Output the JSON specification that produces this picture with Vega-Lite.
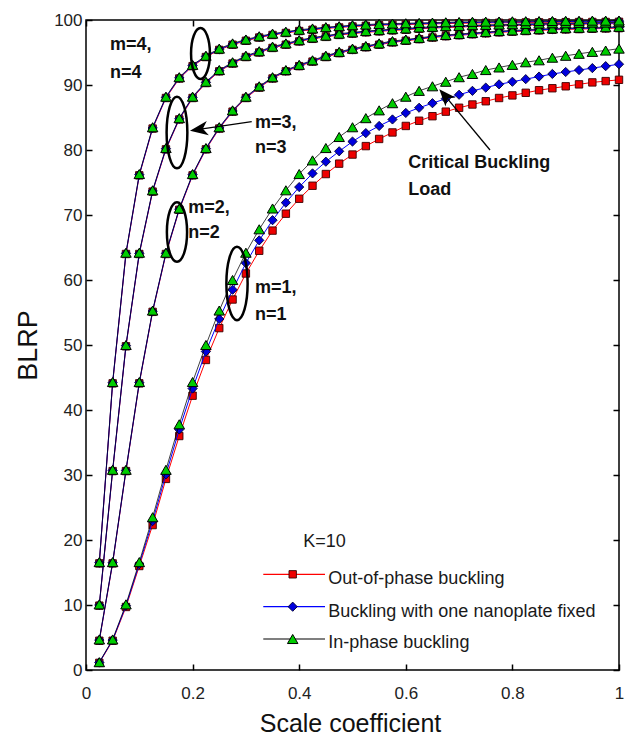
{
"$schema":"https://vega.github.io/schema/vega-lite/v6.json",
"width":533,"height":650,
"autosize":{"type":"none"},
"padding":{"left":86,"top":20,"right":12,"bottom":67},
"background":"white",
"config":{"view":{"stroke":"#000","strokeWidth":1.5},"font":"Liberation Sans",
 "axis":{"domain":false,"grid":false,"tickColor":"#000","tickWidth":1.5,"labelFont":"Liberation Sans","labelFontSize":17,"labelColor":"#222","titleFont":"Liberation Sans","titleFontSize":25,"titleFontWeight":"normal","titleColor":"#111"}},
"datasets":{"curves":[
{"s":"out","m":1,"x":0.025,"y":1.1},{"s":"out","m":1,"x":0.05,"y":4.5},{"s":"out","m":1,"x":0.075,"y":9.7},{"s":"out","m":1,"x":0.1,"y":16.0},{"s":"out","m":1,"x":0.125,"y":22.3},{"s":"out","m":1,"x":0.15,"y":29.4},{"s":"out","m":1,"x":0.175,"y":36.0},{"s":"out","m":1,"x":0.2,"y":42.2},{"s":"out","m":1,"x":0.225,"y":47.7},{"s":"out","m":1,"x":0.25,"y":52.6},{"s":"out","m":1,"x":0.275,"y":57.0},{"s":"out","m":1,"x":0.3,"y":61.0},{"s":"out","m":1,"x":0.325,"y":64.5},{"s":"out","m":1,"x":0.35,"y":67.6},{"s":"out","m":1,"x":0.375,"y":70.2},{"s":"out","m":1,"x":0.4,"y":72.5},{"s":"out","m":1,"x":0.425,"y":74.5},{"s":"out","m":1,"x":0.45,"y":76.3},{"s":"out","m":1,"x":0.475,"y":77.9},{"s":"out","m":1,"x":0.5,"y":79.3},{"s":"out","m":1,"x":0.525,"y":80.6},{"s":"out","m":1,"x":0.55,"y":81.7},{"s":"out","m":1,"x":0.575,"y":82.7},{"s":"out","m":1,"x":0.6,"y":83.7},{"s":"out","m":1,"x":0.625,"y":84.5},{"s":"out","m":1,"x":0.65,"y":85.2},{"s":"out","m":1,"x":0.675,"y":85.9},{"s":"out","m":1,"x":0.7,"y":86.5},{"s":"out","m":1,"x":0.725,"y":87.0},{"s":"out","m":1,"x":0.75,"y":87.5},{"s":"out","m":1,"x":0.775,"y":88.0},{"s":"out","m":1,"x":0.8,"y":88.4},{"s":"out","m":1,"x":0.825,"y":88.8},{"s":"out","m":1,"x":0.85,"y":89.2},{"s":"out","m":1,"x":0.875,"y":89.5},{"s":"out","m":1,"x":0.9,"y":89.8},{"s":"out","m":1,"x":0.925,"y":90.1},{"s":"out","m":1,"x":0.95,"y":90.4},{"s":"out","m":1,"x":0.975,"y":90.6},{"s":"out","m":1,"x":1,"y":90.8},
{"s":"one","m":1,"x":0.025,"y":1.15},{"s":"one","m":1,"x":0.05,"y":4.6},{"s":"one","m":1,"x":0.075,"y":9.9},{"s":"one","m":1,"x":0.1,"y":16.3},{"s":"one","m":1,"x":0.125,"y":22.9},{"s":"one","m":1,"x":0.15,"y":30.1},{"s":"one","m":1,"x":0.175,"y":37.0},{"s":"one","m":1,"x":0.2,"y":43.3},{"s":"one","m":1,"x":0.225,"y":49.0},{"s":"one","m":1,"x":0.25,"y":54.0},{"s":"one","m":1,"x":0.275,"y":58.5},{"s":"one","m":1,"x":0.3,"y":62.6},{"s":"one","m":1,"x":0.325,"y":66.1},{"s":"one","m":1,"x":0.35,"y":69.2},{"s":"one","m":1,"x":0.375,"y":71.9},{"s":"one","m":1,"x":0.4,"y":74.3},{"s":"one","m":1,"x":0.425,"y":76.4},{"s":"one","m":1,"x":0.45,"y":78.2},{"s":"one","m":1,"x":0.475,"y":79.8},{"s":"one","m":1,"x":0.5,"y":81.3},{"s":"one","m":1,"x":0.525,"y":82.6},{"s":"one","m":1,"x":0.55,"y":83.7},{"s":"one","m":1,"x":0.575,"y":84.7},{"s":"one","m":1,"x":0.6,"y":85.7},{"s":"one","m":1,"x":0.625,"y":86.5},{"s":"one","m":1,"x":0.65,"y":87.2},{"s":"one","m":1,"x":0.675,"y":87.9},{"s":"one","m":1,"x":0.7,"y":88.5},{"s":"one","m":1,"x":0.725,"y":89.1},{"s":"one","m":1,"x":0.75,"y":89.6},{"s":"one","m":1,"x":0.775,"y":90.1},{"s":"one","m":1,"x":0.8,"y":90.5},{"s":"one","m":1,"x":0.825,"y":90.9},{"s":"one","m":1,"x":0.85,"y":91.3},{"s":"one","m":1,"x":0.875,"y":91.7},{"s":"one","m":1,"x":0.9,"y":92.0},{"s":"one","m":1,"x":0.925,"y":92.3},{"s":"one","m":1,"x":0.95,"y":92.6},{"s":"one","m":1,"x":0.975,"y":92.9},{"s":"one","m":1,"x":1,"y":93.2},
{"s":"in","m":1,"x":0.025,"y":1.2},{"s":"in","m":1,"x":0.05,"y":4.7},{"s":"in","m":1,"x":0.075,"y":10.1},{"s":"in","m":1,"x":0.1,"y":16.6},{"s":"in","m":1,"x":0.125,"y":23.5},{"s":"in","m":1,"x":0.15,"y":30.8},{"s":"in","m":1,"x":0.175,"y":37.8},{"s":"in","m":1,"x":0.2,"y":44.3},{"s":"in","m":1,"x":0.225,"y":50.0},{"s":"in","m":1,"x":0.25,"y":55.3},{"s":"in","m":1,"x":0.275,"y":60.0},{"s":"in","m":1,"x":0.3,"y":64.2},{"s":"in","m":1,"x":0.325,"y":67.8},{"s":"in","m":1,"x":0.35,"y":71.0},{"s":"in","m":1,"x":0.375,"y":73.8},{"s":"in","m":1,"x":0.4,"y":76.3},{"s":"in","m":1,"x":0.425,"y":78.4},{"s":"in","m":1,"x":0.45,"y":80.3},{"s":"in","m":1,"x":0.475,"y":82.0},{"s":"in","m":1,"x":0.5,"y":83.5},{"s":"in","m":1,"x":0.525,"y":84.9},{"s":"in","m":1,"x":0.55,"y":86.1},{"s":"in","m":1,"x":0.575,"y":87.2},{"s":"in","m":1,"x":0.6,"y":88.2},{"s":"in","m":1,"x":0.625,"y":89.1},{"s":"in","m":1,"x":0.65,"y":89.8},{"s":"in","m":1,"x":0.675,"y":90.5},{"s":"in","m":1,"x":0.7,"y":91.2},{"s":"in","m":1,"x":0.725,"y":91.7},{"s":"in","m":1,"x":0.75,"y":92.3},{"s":"in","m":1,"x":0.775,"y":92.7},{"s":"in","m":1,"x":0.8,"y":93.1},{"s":"in","m":1,"x":0.825,"y":93.5},{"s":"in","m":1,"x":0.85,"y":93.8},{"s":"in","m":1,"x":0.875,"y":94.2},{"s":"in","m":1,"x":0.9,"y":94.5},{"s":"in","m":1,"x":0.925,"y":94.8},{"s":"in","m":1,"x":0.95,"y":95.1},{"s":"in","m":1,"x":0.975,"y":95.3},{"s":"in","m":1,"x":1,"y":95.6},
{"s":"out","m":2,"x":0.025,"y":4.5},{"s":"out","m":2,"x":0.05,"y":16.4},{"s":"out","m":2,"x":0.075,"y":30.6},{"s":"out","m":2,"x":0.1,"y":44.1},{"s":"out","m":2,"x":0.125,"y":55.1},{"s":"out","m":2,"x":0.15,"y":64.0},{"s":"out","m":2,"x":0.175,"y":70.8},{"s":"out","m":2,"x":0.2,"y":76.1},{"s":"out","m":2,"x":0.225,"y":80.1},{"s":"out","m":2,"x":0.25,"y":83.3},{"s":"out","m":2,"x":0.275,"y":85.9},{"s":"out","m":2,"x":0.3,"y":88.0},{"s":"out","m":2,"x":0.325,"y":89.6},{"s":"out","m":2,"x":0.35,"y":91.0},{"s":"out","m":2,"x":0.375,"y":92.1},{"s":"out","m":2,"x":0.4,"y":92.9},{"s":"out","m":2,"x":0.425,"y":93.6},{"s":"out","m":2,"x":0.45,"y":94.3},{"s":"out","m":2,"x":0.475,"y":94.9},{"s":"out","m":2,"x":0.5,"y":95.4},{"s":"out","m":2,"x":0.525,"y":95.8},{"s":"out","m":2,"x":0.55,"y":96.2},{"s":"out","m":2,"x":0.575,"y":96.55},{"s":"out","m":2,"x":0.6,"y":96.8},{"s":"out","m":2,"x":0.625,"y":97.05},{"s":"out","m":2,"x":0.65,"y":97.3},{"s":"out","m":2,"x":0.675,"y":97.5},{"s":"out","m":2,"x":0.7,"y":97.65},{"s":"out","m":2,"x":0.725,"y":97.8},{"s":"out","m":2,"x":0.75,"y":97.95},{"s":"out","m":2,"x":0.775,"y":98.1},{"s":"out","m":2,"x":0.8,"y":98.2},{"s":"out","m":2,"x":0.825,"y":98.3},{"s":"out","m":2,"x":0.85,"y":98.4},{"s":"out","m":2,"x":0.875,"y":98.5},{"s":"out","m":2,"x":0.9,"y":98.55},{"s":"out","m":2,"x":0.925,"y":98.6},{"s":"out","m":2,"x":0.95,"y":98.65},{"s":"out","m":2,"x":0.975,"y":98.7},{"s":"out","m":2,"x":1,"y":98.75},
{"s":"one","m":2,"x":0.025,"y":4.6},{"s":"one","m":2,"x":0.05,"y":16.5},{"s":"one","m":2,"x":0.075,"y":30.7},{"s":"one","m":2,"x":0.1,"y":44.2},{"s":"one","m":2,"x":0.125,"y":55.2},{"s":"one","m":2,"x":0.15,"y":64.1},{"s":"one","m":2,"x":0.175,"y":70.9},{"s":"one","m":2,"x":0.2,"y":76.2},{"s":"one","m":2,"x":0.225,"y":80.2},{"s":"one","m":2,"x":0.25,"y":83.4},{"s":"one","m":2,"x":0.275,"y":86.0},{"s":"one","m":2,"x":0.3,"y":88.1},{"s":"one","m":2,"x":0.325,"y":89.7},{"s":"one","m":2,"x":0.35,"y":91.1},{"s":"one","m":2,"x":0.375,"y":92.2},{"s":"one","m":2,"x":0.4,"y":93.0},{"s":"one","m":2,"x":0.425,"y":93.7},{"s":"one","m":2,"x":0.45,"y":94.4},{"s":"one","m":2,"x":0.475,"y":95.0},{"s":"one","m":2,"x":0.5,"y":95.5},{"s":"one","m":2,"x":0.525,"y":95.9},{"s":"one","m":2,"x":0.55,"y":96.3},{"s":"one","m":2,"x":0.575,"y":96.65},{"s":"one","m":2,"x":0.6,"y":96.9},{"s":"one","m":2,"x":0.625,"y":97.15},{"s":"one","m":2,"x":0.65,"y":97.4},{"s":"one","m":2,"x":0.675,"y":97.6},{"s":"one","m":2,"x":0.7,"y":97.75},{"s":"one","m":2,"x":0.725,"y":97.9},{"s":"one","m":2,"x":0.75,"y":98.05},{"s":"one","m":2,"x":0.775,"y":98.2},{"s":"one","m":2,"x":0.8,"y":98.3},{"s":"one","m":2,"x":0.825,"y":98.4},{"s":"one","m":2,"x":0.85,"y":98.5},{"s":"one","m":2,"x":0.875,"y":98.6},{"s":"one","m":2,"x":0.9,"y":98.65},{"s":"one","m":2,"x":0.925,"y":98.7},{"s":"one","m":2,"x":0.95,"y":98.75},{"s":"one","m":2,"x":0.975,"y":98.8},{"s":"one","m":2,"x":1,"y":98.85},
{"s":"in","m":2,"x":0.025,"y":4.7},{"s":"in","m":2,"x":0.05,"y":16.6},{"s":"in","m":2,"x":0.075,"y":30.8},{"s":"in","m":2,"x":0.1,"y":44.3},{"s":"in","m":2,"x":0.125,"y":55.3},{"s":"in","m":2,"x":0.15,"y":64.2},{"s":"in","m":2,"x":0.175,"y":71.0},{"s":"in","m":2,"x":0.2,"y":76.3},{"s":"in","m":2,"x":0.225,"y":80.3},{"s":"in","m":2,"x":0.25,"y":83.5},{"s":"in","m":2,"x":0.275,"y":86.1},{"s":"in","m":2,"x":0.3,"y":88.2},{"s":"in","m":2,"x":0.325,"y":89.8},{"s":"in","m":2,"x":0.35,"y":91.2},{"s":"in","m":2,"x":0.375,"y":92.3},{"s":"in","m":2,"x":0.4,"y":93.1},{"s":"in","m":2,"x":0.425,"y":93.8},{"s":"in","m":2,"x":0.45,"y":94.5},{"s":"in","m":2,"x":0.475,"y":95.1},{"s":"in","m":2,"x":0.5,"y":95.6},{"s":"in","m":2,"x":0.525,"y":96.0},{"s":"in","m":2,"x":0.55,"y":96.4},{"s":"in","m":2,"x":0.575,"y":96.75},{"s":"in","m":2,"x":0.6,"y":97.0},{"s":"in","m":2,"x":0.625,"y":97.25},{"s":"in","m":2,"x":0.65,"y":97.5},{"s":"in","m":2,"x":0.675,"y":97.7},{"s":"in","m":2,"x":0.7,"y":97.85},{"s":"in","m":2,"x":0.725,"y":98.0},{"s":"in","m":2,"x":0.75,"y":98.15},{"s":"in","m":2,"x":0.775,"y":98.3},{"s":"in","m":2,"x":0.8,"y":98.4},{"s":"in","m":2,"x":0.825,"y":98.5},{"s":"in","m":2,"x":0.85,"y":98.6},{"s":"in","m":2,"x":0.875,"y":98.7},{"s":"in","m":2,"x":0.9,"y":98.75},{"s":"in","m":2,"x":0.925,"y":98.8},{"s":"in","m":2,"x":0.95,"y":98.85},{"s":"in","m":2,"x":0.975,"y":98.9},{"s":"in","m":2,"x":1,"y":98.95},
{"s":"out","m":3,"x":0.025,"y":9.9},{"s":"out","m":3,"x":0.05,"y":30.6},{"s":"out","m":3,"x":0.075,"y":49.8},{"s":"out","m":3,"x":0.1,"y":64.0},{"s":"out","m":3,"x":0.125,"y":73.6},{"s":"out","m":3,"x":0.15,"y":80.1},{"s":"out","m":3,"x":0.175,"y":84.7},{"s":"out","m":3,"x":0.2,"y":88.0},{"s":"out","m":3,"x":0.225,"y":90.3},{"s":"out","m":3,"x":0.25,"y":92.1},{"s":"out","m":3,"x":0.275,"y":93.3},{"s":"out","m":3,"x":0.3,"y":94.3},{"s":"out","m":3,"x":0.325,"y":95.0},{"s":"out","m":3,"x":0.35,"y":95.7},{"s":"out","m":3,"x":0.375,"y":96.2},{"s":"out","m":3,"x":0.4,"y":96.7},{"s":"out","m":3,"x":0.425,"y":97.1},{"s":"out","m":3,"x":0.45,"y":97.4},{"s":"out","m":3,"x":0.475,"y":97.7},{"s":"out","m":3,"x":0.5,"y":97.9},{"s":"out","m":3,"x":0.525,"y":98.1},{"s":"out","m":3,"x":0.55,"y":98.25},{"s":"out","m":3,"x":0.575,"y":98.4},{"s":"out","m":3,"x":0.6,"y":98.5},{"s":"out","m":3,"x":0.625,"y":98.65},{"s":"out","m":3,"x":0.65,"y":98.75},{"s":"out","m":3,"x":0.675,"y":98.85},{"s":"out","m":3,"x":0.7,"y":98.9},{"s":"out","m":3,"x":0.725,"y":99.0},{"s":"out","m":3,"x":0.75,"y":99.05},{"s":"out","m":3,"x":0.775,"y":99.1},{"s":"out","m":3,"x":0.8,"y":99.15},{"s":"out","m":3,"x":0.825,"y":99.2},{"s":"out","m":3,"x":0.85,"y":99.25},{"s":"out","m":3,"x":0.875,"y":99.3},{"s":"out","m":3,"x":0.9,"y":99.3},{"s":"out","m":3,"x":0.925,"y":99.35},{"s":"out","m":3,"x":0.95,"y":99.4},{"s":"out","m":3,"x":0.975,"y":99.4},{"s":"out","m":3,"x":1,"y":99.45},
{"s":"one","m":3,"x":0.025,"y":10.0},{"s":"one","m":3,"x":0.05,"y":30.7},{"s":"one","m":3,"x":0.075,"y":49.9},{"s":"one","m":3,"x":0.1,"y":64.1},{"s":"one","m":3,"x":0.125,"y":73.7},{"s":"one","m":3,"x":0.15,"y":80.2},{"s":"one","m":3,"x":0.175,"y":84.8},{"s":"one","m":3,"x":0.2,"y":88.1},{"s":"one","m":3,"x":0.225,"y":90.4},{"s":"one","m":3,"x":0.25,"y":92.2},{"s":"one","m":3,"x":0.275,"y":93.4},{"s":"one","m":3,"x":0.3,"y":94.4},{"s":"one","m":3,"x":0.325,"y":95.1},{"s":"one","m":3,"x":0.35,"y":95.8},{"s":"one","m":3,"x":0.375,"y":96.3},{"s":"one","m":3,"x":0.4,"y":96.8},{"s":"one","m":3,"x":0.425,"y":97.2},{"s":"one","m":3,"x":0.45,"y":97.5},{"s":"one","m":3,"x":0.475,"y":97.8},{"s":"one","m":3,"x":0.5,"y":98.0},{"s":"one","m":3,"x":0.525,"y":98.2},{"s":"one","m":3,"x":0.55,"y":98.35},{"s":"one","m":3,"x":0.575,"y":98.5},{"s":"one","m":3,"x":0.6,"y":98.6},{"s":"one","m":3,"x":0.625,"y":98.75},{"s":"one","m":3,"x":0.65,"y":98.85},{"s":"one","m":3,"x":0.675,"y":98.95},{"s":"one","m":3,"x":0.7,"y":99.0},{"s":"one","m":3,"x":0.725,"y":99.1},{"s":"one","m":3,"x":0.75,"y":99.15},{"s":"one","m":3,"x":0.775,"y":99.2},{"s":"one","m":3,"x":0.8,"y":99.25},{"s":"one","m":3,"x":0.825,"y":99.3},{"s":"one","m":3,"x":0.85,"y":99.35},{"s":"one","m":3,"x":0.875,"y":99.4},{"s":"one","m":3,"x":0.9,"y":99.4},{"s":"one","m":3,"x":0.925,"y":99.45},{"s":"one","m":3,"x":0.95,"y":99.5},{"s":"one","m":3,"x":0.975,"y":99.5},{"s":"one","m":3,"x":1,"y":99.55},
{"s":"in","m":3,"x":0.025,"y":10.1},{"s":"in","m":3,"x":0.05,"y":30.8},{"s":"in","m":3,"x":0.075,"y":50.0},{"s":"in","m":3,"x":0.1,"y":64.2},{"s":"in","m":3,"x":0.125,"y":73.8},{"s":"in","m":3,"x":0.15,"y":80.3},{"s":"in","m":3,"x":0.175,"y":84.9},{"s":"in","m":3,"x":0.2,"y":88.2},{"s":"in","m":3,"x":0.225,"y":90.5},{"s":"in","m":3,"x":0.25,"y":92.3},{"s":"in","m":3,"x":0.275,"y":93.5},{"s":"in","m":3,"x":0.3,"y":94.5},{"s":"in","m":3,"x":0.325,"y":95.2},{"s":"in","m":3,"x":0.35,"y":95.9},{"s":"in","m":3,"x":0.375,"y":96.4},{"s":"in","m":3,"x":0.4,"y":96.9},{"s":"in","m":3,"x":0.425,"y":97.3},{"s":"in","m":3,"x":0.45,"y":97.6},{"s":"in","m":3,"x":0.475,"y":97.9},{"s":"in","m":3,"x":0.5,"y":98.1},{"s":"in","m":3,"x":0.525,"y":98.3},{"s":"in","m":3,"x":0.55,"y":98.45},{"s":"in","m":3,"x":0.575,"y":98.6},{"s":"in","m":3,"x":0.6,"y":98.7},{"s":"in","m":3,"x":0.625,"y":98.85},{"s":"in","m":3,"x":0.65,"y":98.95},{"s":"in","m":3,"x":0.675,"y":99.05},{"s":"in","m":3,"x":0.7,"y":99.1},{"s":"in","m":3,"x":0.725,"y":99.2},{"s":"in","m":3,"x":0.75,"y":99.25},{"s":"in","m":3,"x":0.775,"y":99.3},{"s":"in","m":3,"x":0.8,"y":99.35},{"s":"in","m":3,"x":0.825,"y":99.4},{"s":"in","m":3,"x":0.85,"y":99.45},{"s":"in","m":3,"x":0.875,"y":99.5},{"s":"in","m":3,"x":0.9,"y":99.5},{"s":"in","m":3,"x":0.925,"y":99.55},{"s":"in","m":3,"x":0.95,"y":99.6},{"s":"in","m":3,"x":0.975,"y":99.6},{"s":"in","m":3,"x":1,"y":99.65},
{"s":"out","m":4,"x":0.025,"y":16.4},{"s":"out","m":4,"x":0.05,"y":44.1},{"s":"out","m":4,"x":0.075,"y":64.0},{"s":"out","m":4,"x":0.1,"y":76.1},{"s":"out","m":4,"x":0.125,"y":83.3},{"s":"out","m":4,"x":0.15,"y":88.0},{"s":"out","m":4,"x":0.175,"y":91.0},{"s":"out","m":4,"x":0.2,"y":92.9},{"s":"out","m":4,"x":0.225,"y":94.3},{"s":"out","m":4,"x":0.25,"y":95.4},{"s":"out","m":4,"x":0.275,"y":96.2},{"s":"out","m":4,"x":0.3,"y":96.8},{"s":"out","m":4,"x":0.325,"y":97.3},{"s":"out","m":4,"x":0.35,"y":97.7},{"s":"out","m":4,"x":0.375,"y":98.0},{"s":"out","m":4,"x":0.4,"y":98.3},{"s":"out","m":4,"x":0.425,"y":98.5},{"s":"out","m":4,"x":0.45,"y":98.7},{"s":"out","m":4,"x":0.475,"y":98.85},{"s":"out","m":4,"x":0.5,"y":99.0},{"s":"out","m":4,"x":0.525,"y":99.1},{"s":"out","m":4,"x":0.55,"y":99.2},{"s":"out","m":4,"x":0.575,"y":99.25},{"s":"out","m":4,"x":0.6,"y":99.3},{"s":"out","m":4,"x":0.625,"y":99.35},{"s":"out","m":4,"x":0.65,"y":99.4},{"s":"out","m":4,"x":0.675,"y":99.45},{"s":"out","m":4,"x":0.7,"y":99.5},{"s":"out","m":4,"x":0.725,"y":99.52},{"s":"out","m":4,"x":0.75,"y":99.55},{"s":"out","m":4,"x":0.775,"y":99.57},{"s":"out","m":4,"x":0.8,"y":99.6},{"s":"out","m":4,"x":0.825,"y":99.62},{"s":"out","m":4,"x":0.85,"y":99.64},{"s":"out","m":4,"x":0.875,"y":99.65},{"s":"out","m":4,"x":0.9,"y":99.67},{"s":"out","m":4,"x":0.925,"y":99.68},{"s":"out","m":4,"x":0.95,"y":99.7},{"s":"out","m":4,"x":0.975,"y":99.7},{"s":"out","m":4,"x":1,"y":99.72},
{"s":"one","m":4,"x":0.025,"y":16.5},{"s":"one","m":4,"x":0.05,"y":44.2},{"s":"one","m":4,"x":0.075,"y":64.1},{"s":"one","m":4,"x":0.1,"y":76.2},{"s":"one","m":4,"x":0.125,"y":83.4},{"s":"one","m":4,"x":0.15,"y":88.1},{"s":"one","m":4,"x":0.175,"y":91.1},{"s":"one","m":4,"x":0.2,"y":93.0},{"s":"one","m":4,"x":0.225,"y":94.4},{"s":"one","m":4,"x":0.25,"y":95.5},{"s":"one","m":4,"x":0.275,"y":96.3},{"s":"one","m":4,"x":0.3,"y":96.9},{"s":"one","m":4,"x":0.325,"y":97.4},{"s":"one","m":4,"x":0.35,"y":97.8},{"s":"one","m":4,"x":0.375,"y":98.1},{"s":"one","m":4,"x":0.4,"y":98.4},{"s":"one","m":4,"x":0.425,"y":98.6},{"s":"one","m":4,"x":0.45,"y":98.8},{"s":"one","m":4,"x":0.475,"y":98.95},{"s":"one","m":4,"x":0.5,"y":99.1},{"s":"one","m":4,"x":0.525,"y":99.2},{"s":"one","m":4,"x":0.55,"y":99.3},{"s":"one","m":4,"x":0.575,"y":99.35},{"s":"one","m":4,"x":0.6,"y":99.4},{"s":"one","m":4,"x":0.625,"y":99.45},{"s":"one","m":4,"x":0.65,"y":99.5},{"s":"one","m":4,"x":0.675,"y":99.55},{"s":"one","m":4,"x":0.7,"y":99.6},{"s":"one","m":4,"x":0.725,"y":99.62},{"s":"one","m":4,"x":0.75,"y":99.65},{"s":"one","m":4,"x":0.775,"y":99.67},{"s":"one","m":4,"x":0.8,"y":99.7},{"s":"one","m":4,"x":0.825,"y":99.72},{"s":"one","m":4,"x":0.85,"y":99.74},{"s":"one","m":4,"x":0.875,"y":99.75},{"s":"one","m":4,"x":0.9,"y":99.77},{"s":"one","m":4,"x":0.925,"y":99.78},{"s":"one","m":4,"x":0.95,"y":99.8},{"s":"one","m":4,"x":0.975,"y":99.8},{"s":"one","m":4,"x":1,"y":99.82},
{"s":"in","m":4,"x":0.025,"y":16.6},{"s":"in","m":4,"x":0.05,"y":44.3},{"s":"in","m":4,"x":0.075,"y":64.2},{"s":"in","m":4,"x":0.1,"y":76.3},{"s":"in","m":4,"x":0.125,"y":83.5},{"s":"in","m":4,"x":0.15,"y":88.2},{"s":"in","m":4,"x":0.175,"y":91.2},{"s":"in","m":4,"x":0.2,"y":93.1},{"s":"in","m":4,"x":0.225,"y":94.5},{"s":"in","m":4,"x":0.25,"y":95.6},{"s":"in","m":4,"x":0.275,"y":96.4},{"s":"in","m":4,"x":0.3,"y":97.0},{"s":"in","m":4,"x":0.325,"y":97.5},{"s":"in","m":4,"x":0.35,"y":97.9},{"s":"in","m":4,"x":0.375,"y":98.2},{"s":"in","m":4,"x":0.4,"y":98.5},{"s":"in","m":4,"x":0.425,"y":98.7},{"s":"in","m":4,"x":0.45,"y":98.9},{"s":"in","m":4,"x":0.475,"y":99.05},{"s":"in","m":4,"x":0.5,"y":99.2},{"s":"in","m":4,"x":0.525,"y":99.3},{"s":"in","m":4,"x":0.55,"y":99.4},{"s":"in","m":4,"x":0.575,"y":99.45},{"s":"in","m":4,"x":0.6,"y":99.5},{"s":"in","m":4,"x":0.625,"y":99.55},{"s":"in","m":4,"x":0.65,"y":99.6},{"s":"in","m":4,"x":0.675,"y":99.65},{"s":"in","m":4,"x":0.7,"y":99.7},{"s":"in","m":4,"x":0.725,"y":99.72},{"s":"in","m":4,"x":0.75,"y":99.75},{"s":"in","m":4,"x":0.775,"y":99.77},{"s":"in","m":4,"x":0.8,"y":99.8},{"s":"in","m":4,"x":0.825,"y":99.82},{"s":"in","m":4,"x":0.85,"y":99.84},{"s":"in","m":4,"x":0.875,"y":99.85},{"s":"in","m":4,"x":0.9,"y":99.87},{"s":"in","m":4,"x":0.925,"y":99.88},{"s":"in","m":4,"x":0.95,"y":99.9},{"s":"in","m":4,"x":0.975,"y":99.9},{"s":"in","m":4,"x":1,"y":99.92}
],
"one":[{"a":1}]},
"layer":[
  {"data":{"name":"curves"},"transform":[{"filter":"datum.s==='out'"}],"mark":{"type":"line","color":"#ff0000","strokeWidth":1},
   "encoding":{
    "x":{"field":"x","type":"quantitative","scale":{"domain":[0,1],"nice":false,"zero":false},
       "axis":{"values":[0,0.2,0.4,0.6,0.8,1],"format":"~g","tickSize":-6,"labelPadding":34,"labelBaseline":"alphabetic","labelFlush":false,"title":"Scale coefficient","titleX":264,"titleY":61,"titleBaseline":"alphabetic","titleAlign":"center"}},
    "y":{"field":"y","type":"quantitative","scale":{"domain":[0,100],"nice":false,"zero":false},
       "axis":{"values":[0,10,20,30,40,50,60,70,80,90,100],"tickSize":-6,"labelPadding":10,"title":"BLRP","titleFontSize":27,"titleX":-50,"titleY":325,"titleBaseline":"alphabetic","titleAlign":"center","titleAngle":270}},
    "detail":{"field":"m"}}},
  {"data":{"name":"curves"},"transform":[{"filter":"datum.s==='out'"}],"mark":{"type":"point","shape":"square","filled":true,"fill":"#ee0000","stroke":"#3a0000","strokeWidth":0.9,"size":55,"opacity":1},
   "encoding":{"x":{"field":"x","type":"quantitative","axis":null},"y":{"field":"y","type":"quantitative","axis":null}}},
  {"data":{"name":"curves"},"transform":[{"filter":"datum.s==='one'"}],"mark":{"type":"line","color":"#0000ff","strokeWidth":1},
   "encoding":{"x":{"field":"x","type":"quantitative","axis":null},"y":{"field":"y","type":"quantitative","axis":null},"detail":{"field":"m"}}},
  {"data":{"name":"curves"},"transform":[{"filter":"datum.s==='one'"}],"mark":{"type":"point","shape":"diamond","filled":true,"fill":"#0000dd","stroke":"#000030","strokeWidth":0.9,"size":85,"opacity":1},
   "encoding":{"x":{"field":"x","type":"quantitative","axis":null},"y":{"field":"y","type":"quantitative","axis":null}}},
  {"data":{"name":"curves"},"transform":[{"filter":"datum.s==='in'"}],"mark":{"type":"line","color":"#000000","strokeWidth":1,"opacity":0.75},
   "encoding":{"x":{"field":"x","type":"quantitative","axis":null},"y":{"field":"y","type":"quantitative","axis":null},"detail":{"field":"m"}}},
  {"data":{"name":"curves"},"transform":[{"filter":"datum.s==='in'"}],"mark":{"type":"point","shape":"triangle-up","filled":true,"fill":"#00cc00","stroke":"#000000","strokeWidth":1,"size":110,"opacity":1},
   "encoding":{"x":{"field":"x","type":"quantitative","axis":null},"y":{"field":"y","type":"quantitative","axis":null}}},

  {"data":{"name":"one"},"mark":{"type":"point","shape":"M 0 -1 C 0.2043 -1 0.37 -0.5523 0.37 0 C 0.37 0.5523 0.2043 1 0 1 C -0.2043 1 -0.37 0.5523 -0.37 0 C -0.37 -0.5523 -0.2043 -1 0 -1 Z","filled":false,"stroke":"#000","strokeWidth":2.5,"size":2601,"opacity":1},
   "encoding":{"x":{"datum":0.2148,"type":"quantitative","axis":null},"y":{"datum":94.85,"type":"quantitative","axis":null}}},
  {"data":{"name":"one"},"mark":{"type":"point","shape":"M 0 -1 C 0.1602 -1 0.29 -0.5523 0.29 0 C 0.29 0.5523 0.1602 1 0 1 C -0.1602 1 -0.29 0.5523 -0.29 0 C -0.29 -0.5523 -0.1602 -1 0 -1 Z","filled":false,"stroke":"#000","strokeWidth":2.5,"size":5120,"opacity":1},
   "encoding":{"x":{"datum":0.1707,"type":"quantitative","axis":null},"y":{"datum":82.69,"type":"quantitative","axis":null}}},
  {"data":{"name":"one"},"mark":{"type":"point","shape":"M 0 -1 C 0.1878 -1 0.34 -0.5523 0.34 0 C 0.34 0.5523 0.1878 1 0 1 C -0.1878 1 -0.34 0.5523 -0.34 0 C -0.34 -0.5523 -0.1878 -1 0 -1 Z","filled":false,"stroke":"#000","strokeWidth":2.5,"size":3530,"opacity":1},
   "encoding":{"x":{"datum":0.1707,"type":"quantitative","axis":null},"y":{"datum":67.38,"type":"quantitative","axis":null}}},
  {"data":{"name":"one"},"mark":{"type":"point","shape":"M 0 -1 C 0.1602 -1 0.29 -0.5523 0.29 0 C 0.29 0.5523 0.1602 1 0 1 C -0.1602 1 -0.29 0.5523 -0.29 0 C -0.29 -0.5523 -0.1602 -1 0 -1 Z","filled":false,"stroke":"#000","strokeWidth":2.5,"size":5370,"opacity":1},
   "encoding":{"x":{"datum":0.2833,"type":"quantitative","axis":null},"y":{"datum":59.46,"type":"quantitative","axis":null}}},

  {"data":{"name":"one"},"mark":{"type":"rule","color":"#000","strokeWidth":1.3},
   "encoding":{"x":{"datum":0.3109,"type":"quantitative","axis":null},"y":{"datum":84.35,"type":"quantitative","axis":null},"x2":{"datum":0.2118},"y2":{"datum":83.17}}},
  {"data":{"name":"one"},"mark":{"type":"point","shape":"M 0 -1 L 0.8 1 L 0 0.45 L -0.8 1 Z","filled":true,"color":"#000","size":324,"angle":261.7,"opacity":1},
   "encoding":{"x":{"datum":0.2118,"type":"quantitative","axis":null},"y":{"datum":83.17,"type":"quantitative","axis":null}}},
  {"data":{"name":"one"},"mark":{"type":"rule","color":"#000","strokeWidth":1.3},
   "encoding":{"x":{"datum":0.758,"type":"quantitative","axis":null},"y":{"datum":80.0,"type":"quantitative","axis":null},"x2":{"datum":0.6734},"y2":{"datum":88.36}}},
  {"data":{"name":"one"},"mark":{"type":"point","shape":"M 0 -1 L 0.8 1 L 0 0.45 L -0.8 1 Z","filled":true,"color":"#000","size":289,"angle":318.4,"opacity":1},
   "encoding":{"x":{"datum":0.6734,"type":"quantitative","axis":null},"y":{"datum":88.36,"type":"quantitative","axis":null}}},

  {"data":{"name":"one"},"mark":{"type":"text","text":["m=4,","n=4"],"align":"left","baseline":"alphabetic","fontSize":18,"fontWeight":"bold","lineHeight":28,"color":"#111"},
   "encoding":{"x":{"datum":0.045,"type":"quantitative","axis":null},"y":{"datum":95.38,"type":"quantitative","axis":null}}},
  {"data":{"name":"one"},"mark":{"type":"text","text":["m=3,","n=3"],"align":"left","baseline":"alphabetic","fontSize":18,"fontWeight":"bold","lineHeight":25,"color":"#111"},
   "encoding":{"x":{"datum":0.3171,"type":"quantitative","axis":null},"y":{"datum":83.4,"type":"quantitative","axis":null}}},
  {"data":{"name":"one"},"mark":{"type":"text","text":["m=2,","n=2"],"align":"left","baseline":"alphabetic","fontSize":18,"fontWeight":"bold","lineHeight":25,"color":"#111"},
   "encoding":{"x":{"datum":0.192,"type":"quantitative","axis":null},"y":{"datum":70.26,"type":"quantitative","axis":null}}},
  {"data":{"name":"one"},"mark":{"type":"text","text":["m=1,","n=1"],"align":"left","baseline":"alphabetic","fontSize":18,"fontWeight":"bold","lineHeight":27,"color":"#111"},
   "encoding":{"x":{"datum":0.3171,"type":"quantitative","axis":null},"y":{"datum":57.95,"type":"quantitative","axis":null}}},
  {"data":{"name":"one"},"mark":{"type":"text","text":["Critical Buckling","Load"],"align":"left","baseline":"alphabetic","fontSize":18,"fontWeight":"bold","lineHeight":27,"color":"#111"},
   "encoding":{"x":{"datum":0.6047,"type":"quantitative","axis":null},"y":{"datum":77.18,"type":"quantitative","axis":null}}},

  {"data":{"name":"one"},"mark":{"type":"rule","color":"#ff0000","strokeWidth":1.2},
   "encoding":{"x":{"datum":0.3326,"type":"quantitative","axis":null},"x2":{"datum":0.4484},"y":{"datum":14.72,"type":"quantitative","axis":null}}},
  {"data":{"name":"one"},"mark":{"type":"point","shape":"square","filled":true,"fill":"#ee0000","stroke":"#3a0000","strokeWidth":0.9,"size":55,"opacity":1},
   "encoding":{"x":{"datum":0.3878,"type":"quantitative","axis":null},"y":{"datum":14.72,"type":"quantitative","axis":null}}},
  {"data":{"name":"one"},"mark":{"type":"rule","color":"#0000ff","strokeWidth":1.2},
   "encoding":{"x":{"datum":0.3326,"type":"quantitative","axis":null},"x2":{"datum":0.4484},"y":{"datum":9.74,"type":"quantitative","axis":null}}},
  {"data":{"name":"one"},"mark":{"type":"point","shape":"diamond","filled":true,"fill":"#0000dd","stroke":"#000030","strokeWidth":0.9,"size":85,"opacity":1},
   "encoding":{"x":{"datum":0.3878,"type":"quantitative","axis":null},"y":{"datum":9.74,"type":"quantitative","axis":null}}},
  {"data":{"name":"one"},"mark":{"type":"rule","color":"#000000","strokeWidth":1.2},
   "encoding":{"x":{"datum":0.3326,"type":"quantitative","axis":null},"x2":{"datum":0.4484},"y":{"datum":4.77,"type":"quantitative","axis":null}}},
  {"data":{"name":"one"},"mark":{"type":"point","shape":"triangle-up","filled":true,"fill":"#00cc00","stroke":"#000","strokeWidth":1,"size":110,"opacity":1},
   "encoding":{"x":{"datum":0.3878,"type":"quantitative","axis":null},"y":{"datum":4.77,"type":"quantitative","axis":null}}},
  {"data":{"name":"one"},"mark":{"type":"text","text":"Out-of-phase buckling","align":"left","baseline":"alphabetic","fontSize":18,"color":"#1a1a1a"},
   "encoding":{"x":{"datum":0.4546,"type":"quantitative","axis":null},"y":{"datum":13.23,"type":"quantitative","axis":null}}},
  {"data":{"name":"one"},"mark":{"type":"text","text":"Buckling with one nanoplate fixed","align":"left","baseline":"alphabetic","fontSize":18,"color":"#1a1a1a"},
   "encoding":{"x":{"datum":0.4546,"type":"quantitative","axis":null},"y":{"datum":8.2,"type":"quantitative","axis":null}}},
  {"data":{"name":"one"},"mark":{"type":"text","text":"In-phase buckling","align":"left","baseline":"alphabetic","fontSize":18,"color":"#1a1a1a"},
   "encoding":{"x":{"datum":0.4546,"type":"quantitative","axis":null},"y":{"datum":3.33,"type":"quantitative","axis":null}}},
  {"data":{"name":"one"},"mark":{"type":"text","text":"K=10","align":"left","baseline":"alphabetic","fontSize":18,"color":"#1a1a1a"},
   "encoding":{"x":{"datum":0.4077,"type":"quantitative","axis":null},"y":{"datum":18.97,"type":"quantitative","axis":null}}},

  {"data":{"name":"one"},"mark":{"type":"point","opacity":0},
   "encoding":{
    "x":{"datum":0.5,"type":"quantitative","axis":{"orient":"top","labels":false,"title":null,"values":[0,0.2,0.4,0.6,0.8,1],"tickSize":-6}},
    "y":{"datum":50,"type":"quantitative","axis":{"orient":"right","labels":false,"title":null,"values":[0,10,20,30,40,50,60,70,80,90,100],"tickSize":-6}}}}
],
"resolve":{"axis":{"x":"independent","y":"independent"}}
}
